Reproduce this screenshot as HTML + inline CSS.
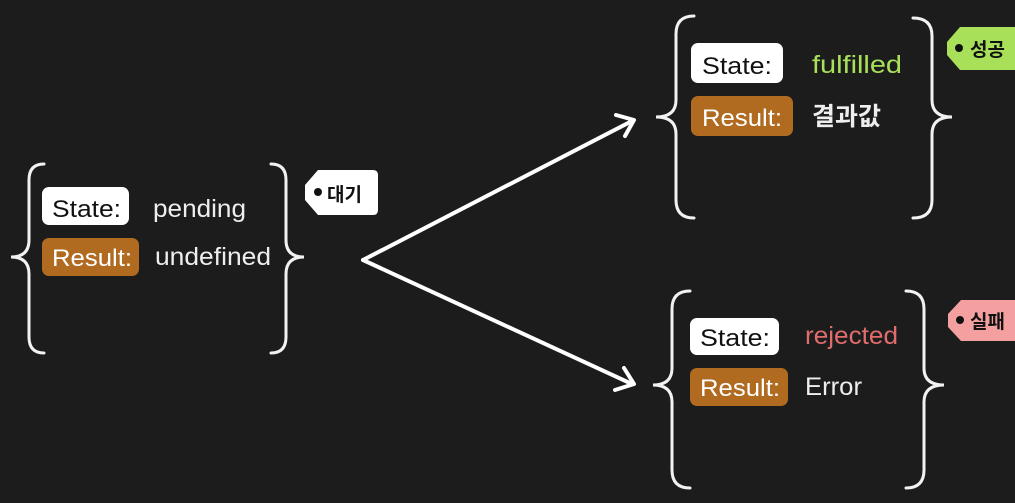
<!DOCTYPE html>
<html><head><meta charset="utf-8"><style>
html,body{margin:0;padding:0;background:#1c1c1c;}
svg{display:block}
text{font-family:"Liberation Sans","Noto Sans CJK KR",sans-serif;font-size:24px;}
.v{font-size:25px}
.t{font-size:19px;font-weight:bold}
</style></head><body>
<svg width="1015" height="503" viewBox="0 0 1015 503">
<rect width="1015" height="503" fill="#1c1c1c"/>
<g fill="none" stroke="#f2f2f2" stroke-width="3" stroke-linecap="round">
<path d="M44,164 Q29,164 29,180 V240 Q29,257 11,257 Q29,257 29,274 V337 Q29,353 44,353"/>
<path d="M271,164 Q286,164 286,180 V240 Q286,257 304,257 Q286,257 286,274 V337 Q286,353 271,353"/>
<path d="M694,16 Q676,16 676,34 V100 Q676,117 656,117 Q676,117 676,134 V200 Q676,218 694,218"/>
<path d="M913,18 Q932,18 932,36 V100 Q932,117 952,117 Q932,117 932,134 V200 Q932,218 913,218"/>
<path d="M690,291 Q672,291 672,309 V368 Q672,385 653,385 Q672,385 672,402 V470 Q672,488 690,488"/>
<path d="M906,291 Q924,291 924,309 V368 Q924,385 944,385 Q924,385 924,402 V470 Q924,488 906,488"/>
</g>
<g stroke="#fff" stroke-width="4" fill="none" stroke-linecap="round" stroke-linejoin="round">
<path d="M363,260 L632,121"/>
<path d="M616,115 L634,120 L625,136"/>
<path d="M363,260 L632,384"/>
<path d="M624,368 L634,384 L615,390"/>
</g>
<rect x="42" y="187" width="87" height="38" rx="7" fill="#fff"/>
<text x="52" y="217" fill="#111" textLength="69" lengthAdjust="spacingAndGlyphs">State:</text>
<text class="v" x="153" y="217" fill="#eee" textLength="93" lengthAdjust="spacingAndGlyphs">pending</text>
<rect x="42" y="238" width="97" height="38" rx="7" fill="#b06b20"/>
<text x="52" y="266" fill="#fff" textLength="80" lengthAdjust="spacingAndGlyphs">Result:</text>
<text class="v" x="155" y="265" fill="#eee" textLength="116" lengthAdjust="spacingAndGlyphs">undefined</text>
<path d="M318,170 H373 Q378,170 378,175 V210 Q378,215 373,215 H318 L305,200 V185 Z" fill="#fff"/>
<circle cx="318" cy="192" r="4" fill="#111"/>
<text class="t" x="327" y="201" fill="#111">대기</text>
<rect x="691" y="43" width="92" height="40" rx="7" fill="#fff"/>
<text x="702" y="74" fill="#111" textLength="70" lengthAdjust="spacingAndGlyphs">State:</text>
<text class="v" x="812" y="73" fill="#a8e05a" textLength="90" lengthAdjust="spacingAndGlyphs">fulfilled</text>
<rect x="691" y="96" width="102" height="40" rx="7" fill="#b06b20"/>
<text x="702" y="126" fill="#fff" textLength="80" lengthAdjust="spacingAndGlyphs">Result:</text>
<text class="v" x="812" y="125" fill="#eee" style="font-weight:bold">결과값</text>
<path d="M960,27 H1015 V70 H960 L947,55 V42 Z" fill="#a8e05a"/>
<circle cx="959" cy="48" r="4" fill="#111"/>
<text class="t" x="970" y="56" fill="#111">성공</text>
<rect x="690" y="318" width="89" height="37" rx="7" fill="#fff"/>
<text x="700" y="346" fill="#111" textLength="70" lengthAdjust="spacingAndGlyphs">State:</text>
<text class="v" x="805" y="344" fill="#e06c6c" textLength="93" lengthAdjust="spacingAndGlyphs">rejected</text>
<rect x="690" y="368" width="98" height="38" rx="7" fill="#b06b20"/>
<text x="700" y="396" fill="#fff" textLength="80" lengthAdjust="spacingAndGlyphs">Result:</text>
<text class="v" x="805" y="395" fill="#eee" textLength="57" lengthAdjust="spacingAndGlyphs">Error</text>
<path d="M961,300 H1015 V341 H961 L948,327 V314 Z" fill="#f4a0a0"/>
<circle cx="960" cy="320" r="4" fill="#111"/>
<text class="t" x="970" y="328" fill="#111">실패</text>
</svg>
</body></html>
